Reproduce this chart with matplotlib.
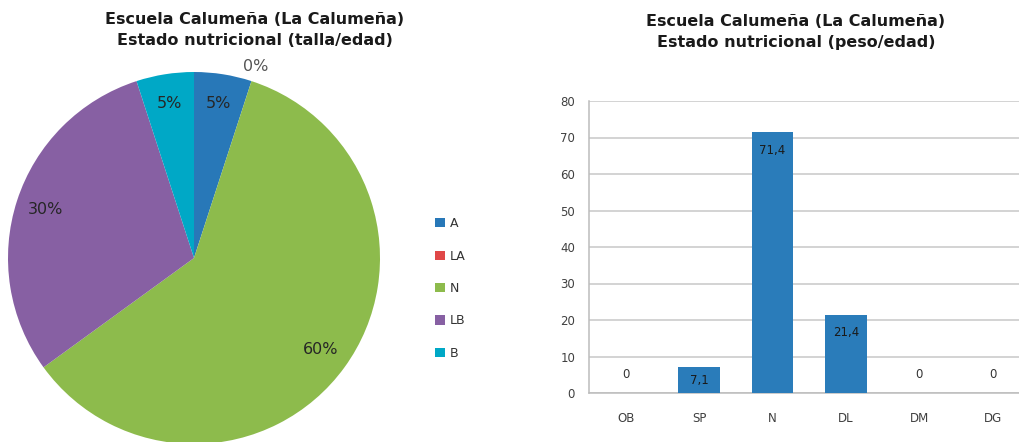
import numpy as np
import matplotlib
matplotlib.use("Agg")
import matplotlib.pyplot as plt
from matplotlib.patches import Patch

# talla/edad
pie_labels = ["A", "LA", "N", "LB", "B"]
pie_values = [5, 0, 60, 30, 5]
pie_colors = ["#2878b8", "#e04848", "#8dbb4c", "#8760a3", "#00a8c6"]

# peso/edad
bar_cats = ["OB", "SP", "N", "DL", "DM", "DG"]
bar_values = [0, 7.1, 71.4, 21.4, 0, 0]
bar_color = "#2a7cba"

W, H = 1020, 442
fig = plt.figure(figsize=(W / 100, H / 100), dpi=100)
fig.patch.set_facecolor("white")

title_kw = dict(fontsize=11.5, fontweight="bold", color="#1a1a1a", ha="center", va="center",
                family="DejaVu Sans", linespacing=1.45)
fig.text(255 / W, 1 - 30 / H, "Escuela Calumeña (La Calumeña)\nEstado nutricional (talla/edad)", **title_kw)
fig.text(796 / W, 1 - 32 / H, "Escuela Calumeña (La Calumeña)\nEstado nutricional (peso/edad)", **title_kw)

# ---- pie ----
cx, cy, r = 194, 442 - 258, 186
ax1 = fig.add_axes([(cx - r) / W, (cy - r) / H, 2 * r / W, 2 * r / H])
wedges, _ = ax1.pie(pie_values, colors=pie_colors, startangle=90, counterclock=False,
                    radius=1, wedgeprops=dict(linewidth=0))
ax1.set_xlim(-1, 1)
ax1.set_ylim(-1, 1)
ax1.set_aspect("equal")
ax1.axis("off")

total = sum(pie_values)
start = 90.0
for v in pie_values:
    sweep = 360.0 * v / total
    mid = np.deg2rad(start - sweep / 2)
    d = 1.08 if v == 0 else 0.84
    col = "#555555" if v == 0 else "#262626"
    ax1.text(d * np.cos(mid), d * np.sin(mid), f"{v}%", ha="center", va="center",
             fontsize=11.5, color=col, clip_on=False)
    start -= sweep

handles = [Patch(facecolor=c, edgecolor="none") for c in pie_colors]
fig.legend(handles, pie_labels, loc="upper left", bbox_to_anchor=(424 / W, 1 - 206 / H),
           frameon=False, fontsize=9, handlelength=0.75, handleheight=0.75,
           handletextpad=0.4, labelspacing=1.55, labelcolor="#333333")

# ---- bars ----
ax2 = fig.add_axes([589 / W, 49 / H, (W - 589) / W, 292 / H])
x = np.arange(len(bar_cats))
ax2.bar(x, bar_values, width=0.57, color=bar_color, zorder=3)
ax2.set_xlim(-0.5, -0.5 + (W - 589) / 73.4)
ax2.set_ylim(0, 80)
ax2.set_yticks(range(0, 81, 10))
ax2.set_xticks(x)
ax2.set_xticklabels(bar_cats)
ax2.grid(axis="y", color="#c8c8c8", linewidth=1.1, zorder=0)
ax2.set_axisbelow(True)
for s in ["top", "right"]:
    ax2.spines[s].set_visible(False)
for s in ["left", "bottom"]:
    ax2.spines[s].set_color("#bcbcbc")
    ax2.spines[s].set_linewidth(1.1)
ax2.tick_params(length=0, labelsize=8.5, labelcolor="#404040")
ax2.tick_params(axis="x", pad=14)
ax2.tick_params(axis="y", pad=10)

for xi, v in zip(x, bar_values):
    label = f"{v:g}".replace(".", ",")
    if v == 0:
        ax2.annotate(label, (xi, 0), xytext=(0, 13), textcoords="offset points",
                     ha="center", va="center", fontsize=8.5, color="#333333")
    elif v < 10:
        ax2.text(xi, v / 2, label, ha="center", va="center", fontsize=8.5, color="#1a1a1a")
    else:
        ax2.annotate(label, (xi, v), xytext=(0, -13), textcoords="offset points",
                     ha="center", va="center", fontsize=8.5, color="#1a1a1a")

fig.savefig("out.png", dpi=100, facecolor="white")
